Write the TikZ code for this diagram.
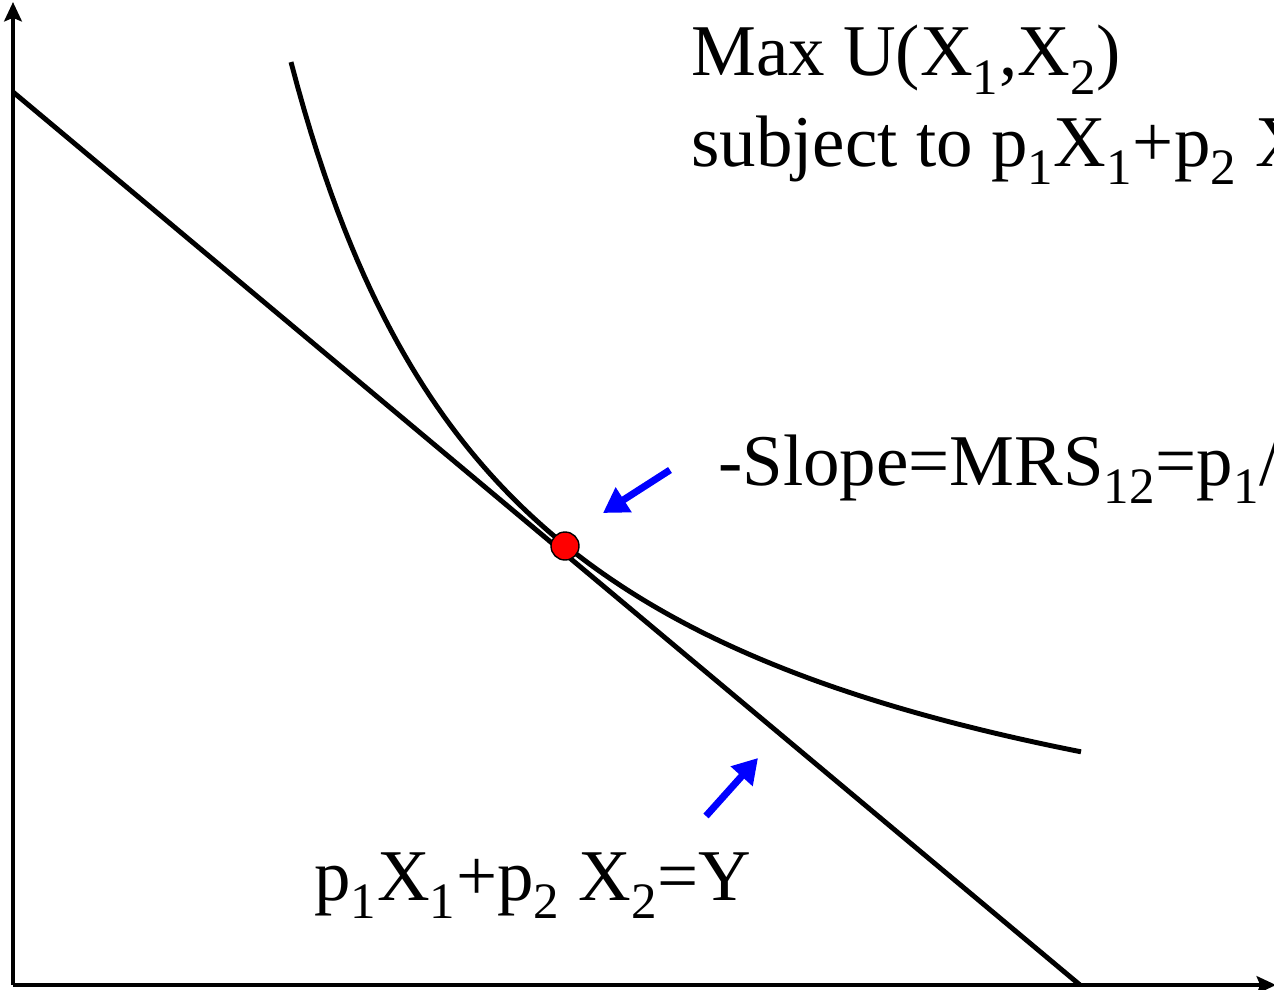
\documentclass[tikz,border=0pt]{standalone}
\usepackage{fontspec}
\setmainfont{Liberation Serif}
\usepackage{tikz}
\usetikzlibrary{arrows.meta,positioning}
\newcommand{\sbs}[1]{\textsubscript{#1}}

\begin{document}
\begin{tikzpicture}[x=0.02cm, y=-0.02cm,
    axis/.style={line width=2.8pt, -{Stealth[length=11pt, width=10pt, inset=2pt]}},
    curve/.style={line width=2.8pt, black},
    pointer/.style={line width=4pt, blue, -{Triangle[length=14pt, width=16pt]}},
    optimum/.style={circle, draw=black, line width=0.8pt, fill=red, minimum size=0.56cm, inner sep=0pt},
    txt/.style={font=\fontsize{41.5}{48}\selectfont, inner sep=0pt, anchor=base west}
]
\clip (0,0) rectangle (1274,990);

% Axes
\coordinate (origin) at (13,985);
\coordinate (ytop) at (13,2);
\coordinate (xend) at (1276,985);
\draw[axis] (origin) -- (ytop);
\draw[axis] (origin) -- (xend);

% Budget line
\coordinate (bA) at (13,92);
\coordinate (bB) at (1080,985);
\draw[curve] (bA) -- (bB);

% Indifference curve
\draw[curve] plot[domain=291:1081, samples=120] (\x, {954.7 - 2074.5/((\x-58.6)/100)});

% Optimum
\node[optimum] (opt) at (565,546) {};

% Labels
\node[txt] (title) at (691,76) {Max U(X\sbs{1},X\sbs{2})};
\node[txt] (constr) at (691,166) {subject to p\sbs{1}X\sbs{1}+p\sbs{2} X\sbs{2}=Y};
\node[txt] (slope) at (718,485) {-Slope=MRS\sbs{12}=p\sbs{1}/p\sbs{2}};
\node[txt] (budget) at (314,900) {p\sbs{1}X\sbs{1}+p\sbs{2} X\sbs{2}=Y};

% Pointers
\coordinate (s1) at (670,470);
\coordinate (t1) at (603,513);
\coordinate (s2) at (706,816);
\coordinate (t2) at (758,758);
\draw[pointer] (s1) -- (t1);
\draw[pointer] (s2) -- (t2);

\end{tikzpicture}
\end{document}
